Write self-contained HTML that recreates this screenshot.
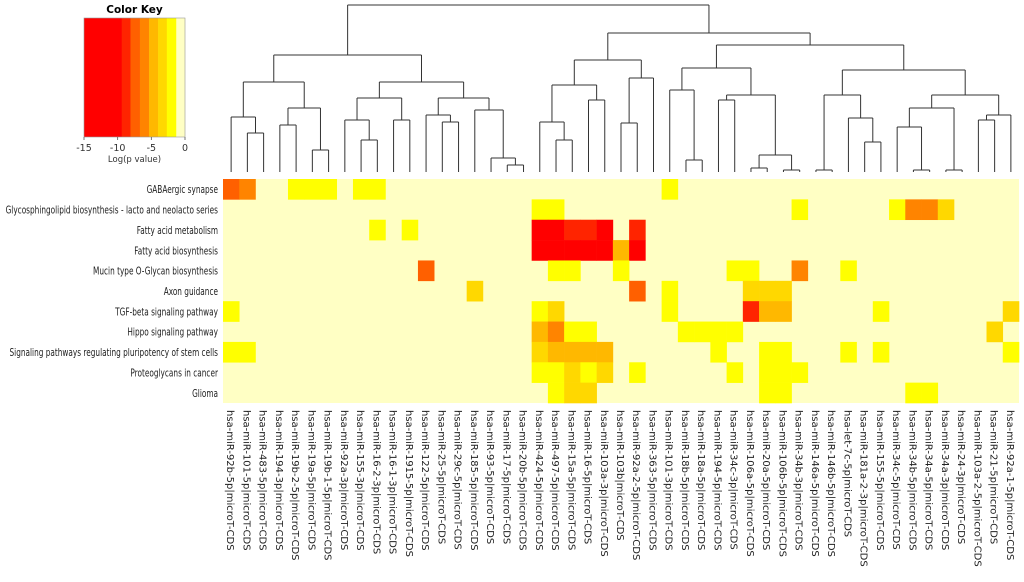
<!DOCTYPE html>
<html><head><meta charset="utf-8"><style>
html,body{margin:0;padding:0;background:#fff;}
svg{display:block;font-family:"DejaVu Sans","Liberation Sans",sans-serif;}
</style></head><body>
<svg id="chart" width="1024" height="582" viewBox="0 0 1024 582"></svg>
<script>
const categories = ["hsa-miR-92b-5p","hsa-miR-101-5p","hsa-miR-483-5p","hsa-miR-194-3p","hsa-miR-19b-2-5p","hsa-miR-19a-5p","hsa-miR-19b-1-5p","hsa-miR-92a-3p","hsa-miR-155-3p","hsa-miR-16-2-3p","hsa-miR-16-1-3p","hsa-miR-1915-5p","hsa-miR-122-5p","hsa-miR-25-5p","hsa-miR-29c-5p","hsa-miR-185-5p","hsa-miR-93-5p","hsa-miR-17-5p","hsa-miR-20b-5p","hsa-miR-424-5p","hsa-miR-497-5p","hsa-miR-15a-5p","hsa-miR-16-5p","hsa-miR-103a-3p","hsa-miR-103b","hsa-miR-92a-2-5p","hsa-miR-363-5p","hsa-miR-101-3p","hsa-miR-18b-5p","hsa-miR-18a-5p","hsa-miR-194-5p","hsa-miR-34c-3p","hsa-miR-106a-5p","hsa-miR-20a-5p","hsa-miR-106b-5p","hsa-miR-34b-3p","hsa-miR-146a-5p","hsa-miR-146b-5p","hsa-let-7c-5p","hsa-miR-181a-2-3p","hsa-miR-155-5p","hsa-miR-34c-5p","hsa-miR-34b-5p","hsa-miR-34a-5p","hsa-miR-34a-3p","hsa-miR-24-3p","hsa-miR-103a-2-5p","hsa-miR-21-5p","hsa-miR-92a-1-5p"];
const pathways = ["GABAergic synapse","Glycosphingolipid biosynthesis - lacto and neolacto series","Fatty acid metabolism","Fatty acid biosynthesis","Mucin type O-Glycan biosynthesis","Axon guidance","TGF-beta signaling pathway","Hippo signaling pathway","Signaling pathways regulating pluripotency of stem cells","Proteoglycans in cancer","Glioma"];
// non-zero log(p) values: [row, col, value]
const cells = [
[0,0,-7.5],[0,1,-5.8],[0,4,-2],[0,5,-2],[0,6,-2],[0,8,-2],[0,9,-2],[0,27,-2],
[1,19,-2],[1,20,-2],[1,35,-2],[1,41,-2],[1,42,-6],[1,43,-6],[1,44,-3.5],
[2,9,-2],[2,11,-2],[2,19,-12],[2,20,-12],[2,21,-9],[2,22,-9],[2,23,-12],[2,25,-9],
[3,19,-12],[3,20,-12],[3,21,-12],[3,22,-12],[3,23,-12],[3,24,-4.5],[3,25,-12],
[4,12,-7.5],[4,20,-2],[4,21,-2],[4,24,-2],[4,31,-2],[4,32,-2],[4,35,-6],[4,38,-2],
[5,15,-3.5],[5,25,-7.5],[5,27,-2],[5,32,-3.5],[5,33,-3.5],[5,34,-3.5],
[6,0,-2],[6,19,-2],[6,20,-3.5],[6,27,-2],[6,32,-9],[6,33,-4.5],[6,34,-4.5],[6,40,-2],[6,48,-3.5],
[7,19,-4.5],[7,20,-6],[7,21,-2],[7,22,-2],[7,28,-2],[7,29,-2],[7,30,-2],[7,31,-2],[7,47,-3.5],
[8,0,-2],[8,1,-2],[8,19,-3.5],[8,20,-5],[8,21,-5],[8,22,-5],[8,23,-4.5],[8,30,-2],[8,33,-2],[8,34,-2],[8,38,-2],[8,40,-2],[8,48,-2],
[9,19,-2],[9,20,-2],[9,21,-3.5],[9,22,-2],[9,23,-3.5],[9,25,-2],[9,31,-2],[9,33,-2],[9,34,-2],[9,35,-2],
[10,20,-2],[10,21,-3.5],[10,22,-3.5],[10,33,-2],[10,34,-2],[10,42,-2],[10,43,-2]
];
const keyTicks = [-15,-10,-5,0];
const bandBreaks = [-15,-9.4,-8.1,-6.7,-5.35,-4,-2.7,-1.3,0];
const bandColors = ["#ff0000","#ff2400","#ff6000","#ff8400","#ffb800","#ffd800","#ffff00","#ffffc4"];

const NS="http://www.w3.org/2000/svg";
const svg=document.getElementById('chart');
function mk(tag,attrs,parent){const e=document.createElementNS(NS,tag);for(const k in attrs)e.setAttribute(k,attrs[k]);(parent||svg).appendChild(e);return e;}
const gx0=223,gx1=1019,gy0=179,gy1=403;
const cw=(gx1-gx0)/categories.length, rh=(gy1-gy0)/pathways.length;
function xCol(i){return gx0+i*cw;}
function yRow(r){return gy0+r*rh;}
function color(v){for(let i=0;i<bandColors.length;i++){if(v<bandBreaks[i+1])return bandColors[i];}return bandColors[bandColors.length-1];}

const bg=mk('rect',{x:gx0,y:gy0,width:gx1-gx0,height:gy1-gy0,fill:color(0)});


cells.forEach(c=>{
  const r=mk('rect',{x:xCol(c[1]),y:yRow(c[0]),width:cw+0.3,height:rh+0.3,fill:color(c[2])});
  
  
});
// row labels (horizontally condensed)
const rg=mk('g',{transform:'translate(218,0) scale(0.70,1)'});


pathways.forEach((p,i)=>{
  const t=mk('text',{x:0,y:yRow(i)+rh/2+4,'text-anchor':'end','font-size':10.5,fill:'#222'},rg);
  t.textContent=p;
  
  
});
// column labels
categories.forEach((c,i)=>{
  const x=xCol(i)+cw/2-4, y=410;
  const t=mk('text',{x:x,y:y,transform:`rotate(90 ${x} ${y})`,'font-size':10,fill:'#222'});
  t.textContent=c+"|microT-CDS";
  
  
});
// dendrogram: node = [yHeight, left, right], leaf = column index
const tree=[5,
  [55,
    [82,[117,0,[133,1,2]],[108,[125,3,4],[150,5,[165,6,6]]]],
    [82,[98,[120,7,[140,8,9]],[120,10,11]],[98,[115,12,[122,13,14]],[110,15,[158,16,[165,17,18]]]]]],
  [33,
    [60,[85,[122,19,[140,20,21]],[100,22,23]],[78,[123,24,25],26]],
    [45,
      [68,[90,27,[160,28,29]],[95,[100,30,31],[155,[168,32,33],[170,34,35]]]],
      [70,[95,[170,36,37],[118,38,[142,39,40]]],[95,[108,[127,41,[170,42,43]],[170,44,45]],[115,[120,46,47],[135,48,48]]]]]]];
const dg=mk('g',{stroke:'#333','stroke-width':1,fill:'none'});


const leafY=172;
function draw(n){
  if(typeof n==='number')return {x:xCol(n)+cw/2,y:leafY};
  const a=draw(n[1]),b=draw(n[2]),h=n[0];
  if(n[1]===n[2])return a;
  mk('line',{x1:a.x,y1:a.y,x2:a.x,y2:h},dg);
  mk('line',{x1:b.x,y1:b.y,x2:b.x,y2:h},dg);
  mk('line',{x1:a.x,y1:h,x2:b.x,y2:h},dg);
  return {x:(a.x+b.x)/2,y:h};
}
draw(tree);
// color key
const kx0=84,kx1=185,ky0=18,ky1=137;
function kx(v){return kx0+(v+15)/15*(kx1-kx0);}
const kg=mk('g',{});


bandColors.forEach((c,i)=>{
  const r=mk('rect',{x:kx(bandBreaks[i]),y:ky0,width:kx(bandBreaks[i+1])-kx(bandBreaks[i])+0.3,height:ky1-ky0,fill:c},kg);
  
  
});
mk('rect',{x:kx0,y:ky0,width:kx1-kx0,height:ky1-ky0,fill:'none',stroke:'#999','stroke-width':0.6},kg);
const kt=mk('text',{x:(kx0+kx1)/2,y:13,'text-anchor':'middle','font-size':10.5,'font-weight':'bold',fill:'#000'},kg);
kt.textContent='Color Key';


keyTicks.forEach(v=>{
  mk('line',{x1:kx(v),y1:ky1,x2:kx(v),y2:ky1+3,stroke:'#555','stroke-width':0.8},kg);
  const t=mk('text',{x:kx(v),y:151,'text-anchor':'middle','font-size':9.5,fill:'#333'},kg);
  t.textContent=String(v);
  
  
});
const kl=mk('text',{x:(kx0+kx1)/2,y:162,'text-anchor':'middle','font-size':8.5,fill:'#333'},kg);
kl.textContent='Log(p value)';


</script>
</body></html>
